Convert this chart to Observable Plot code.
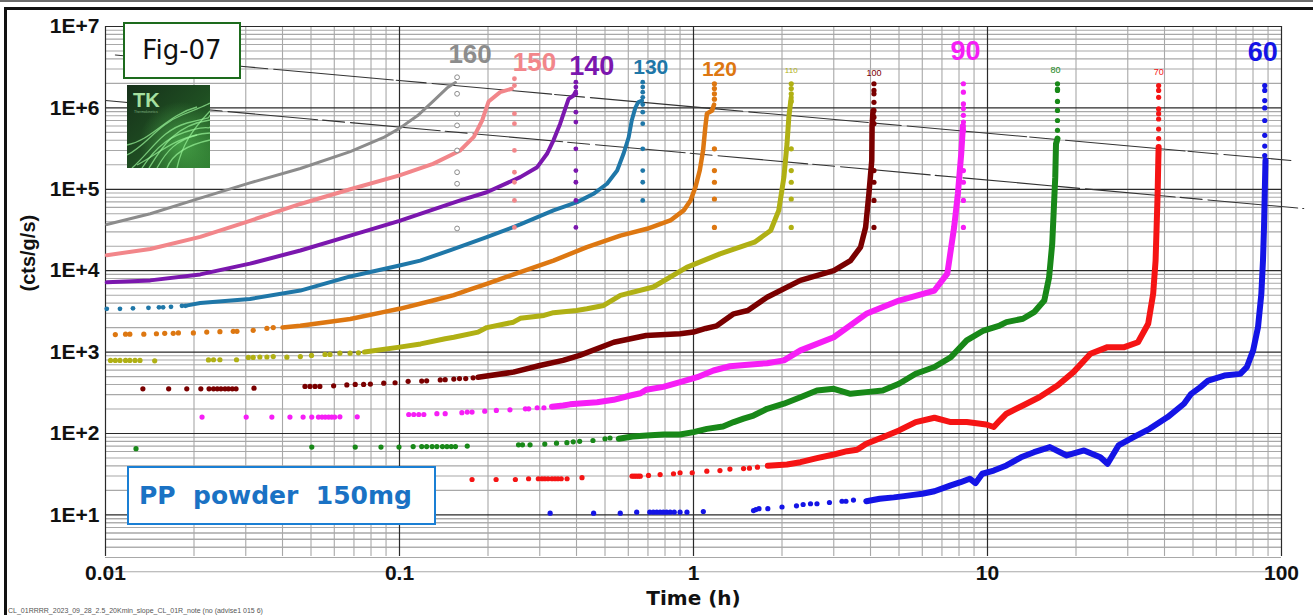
<!DOCTYPE html>
<html><head><meta charset="utf-8">
<script src="https://cdn.jsdelivr.net/npm/d3@7"></script>
<script src="https://cdn.jsdelivr.net/npm/@observablehq/plot@0.6"></script>
<style>
html,body{margin:0;padding:0;background:#fff;}
#wrap{position:relative;width:1313px;height:615px;overflow:hidden;font-family:"Liberation Sans",Arial,sans-serif;}
#chart{position:absolute;left:0;top:0;}
#chart svg{overflow:visible;}
.topline{position:absolute;left:0;top:0;width:1313px;height:2px;background:#6a6a6a;}
.frame{position:absolute;left:4px;top:7px;width:1320px;height:620px;border-left:3px solid #111;border-top:3px solid #111;pointer-events:none;}
.fig{position:absolute;left:123px;top:22px;width:114px;height:53px;border:2px solid #1d6b1d;background:#fff;font-family:"DejaVu Sans",sans-serif;font-size:26px;color:#111;text-align:center;line-height:53px;}
.logo{position:absolute;left:127px;top:85px;width:83px;height:83px;}
.pp{position:absolute;left:127px;top:466px;width:295px;height:55px;border:2.5px solid #1a7fd4;background:#fff;font-family:"DejaVu Sans",sans-serif;font-weight:bold;font-size:25px;color:#1a72c4;white-space:pre;line-height:55px;padding-left:10px;box-sizing:content-box;}
.cap{position:absolute;left:8px;top:607px;font-size:7px;color:#555;white-space:pre;font-family:"Liberation Sans",Arial,sans-serif;}
</style></head>
<body>
<div id="wrap">
  <div id="chart"></div>
  <div class="topline"></div>
  <div class="frame"></div>
  <div class="fig">Fig-07</div>
  <svg class="logo" viewBox="0 0 83 83" width="83" height="83">
    <defs>
      <linearGradient id="lg" x1="0" y1="0" x2="1" y2="1">
        <stop offset="0" stop-color="#16301a"/><stop offset="0.55" stop-color="#1f4f22"/><stop offset="1" stop-color="#2f7d31"/>
      </linearGradient>
      <radialGradient id="glow" cx="0.65" cy="0.7" r="0.5">
        <stop offset="0" stop-color="#5fd35f" stop-opacity="0.55"/><stop offset="1" stop-color="#5fd35f" stop-opacity="0"/>
      </radialGradient>
    </defs>
    <rect width="83" height="83" fill="url(#lg)"/>
    <rect width="83" height="83" fill="url(#glow)"/>
    <g fill="none" stroke="#9af59a" stroke-opacity="0.7" stroke-width="1.3">
      <path d="M0 70 C20 60 30 40 55 30 S80 20 83 18"/>
      <path d="M5 83 C25 65 35 45 60 38 S80 35 83 30"/>
      <path d="M15 83 C30 60 45 50 65 45 S80 45 83 42"/>
      <path d="M30 83 C40 65 50 55 70 50"/>
      <path d="M0 60 C25 55 40 30 70 22"/>
      <path d="M40 83 C45 70 60 60 83 55"/>
      <path d="M22 83 C35 62 48 40 83 35"/>
      <path d="M10 80 C30 70 50 50 83 48"/>
      <path d="M50 83 C55 60 65 45 83 26"/>
    </g>
    <text x="6" y="22" font-family="Liberation Sans, Arial" font-weight="bold" font-size="20" fill="#a6e0a0">TK</text>
    <text x="7" y="28" font-family="Liberation Sans, Arial" font-size="3.5" fill="#7fb07f">Thermokinetics</text>
  </svg>
  <div class="pp">PP  powder  150mg</div>
  <div class="cap">CL_01RRRR_2023_09_28_2.5_20Kmin_slope_CL_01R_note (no (advise1 015 6)</div>
</div>
<script>
// ---------- data (time in h, intensity in cts/g/s) ----------
const temps = ["160","150","140","130","120","110","100","90","80","70","60"];

const curve160 = [[0.0101,3.7e4],[0.0142,5.0e4],[0.021,7.8e4],[0.031,1.2e5],[0.046,1.8e5],[0.068,2.9e5],[0.088,4.3e5],[0.1,5.6e5],[0.115,8.0e5],[0.13,1.2e6],[0.145,1.75e6],[0.155,2.05e6]];
const sparse160 = [];
const spikeT160 = 0.157;
const spike160 = [2.38e6,1.49e6,8.5e5,6.1e5,3.0e5,1.62e5,1.17e5,3.3e4];

const curve150 = [[0.0101,1.55e4],[0.0142,1.85e4],[0.021,2.6e4],[0.031,4.1e4],[0.046,6.6e4],[0.068,1.0e5],[0.1,1.48e5],[0.13,2.05e5],[0.161,3.0e5],[0.179,4.4e5],[0.191,7.0e5],[0.201,1.2e6],[0.22,1.56e6],[0.241,1.72e6]];
const sparse150 = [];
const spikeT150 = 0.246;
const spike150 = [2.28e6,1.88e6,8.5e5,6.4e5,3.0e5,1.62e5,1.22e5,7.3e4,3.4e4];

const curve140 = [[0.0101,7.2e3],[0.0142,7.6e3],[0.021,9.0e3],[0.031,1.22e4],[0.046,1.77e4],[0.068,2.7e4],[0.1,4.1e4],[0.161,7.3e4],[0.198,9.2e4],[0.2575,1.41e5],[0.294,1.87e5],[0.3175,2.73e5],[0.334,4.0e5],[0.352,6.4e5],[0.367,1.0e6],[0.376,1.29e6],[0.391,1.42e6],[0.398,1.6e6]];
const sparse140 = [];
const spikeT140 = 0.398;
const spike140 = [2.07e6,1.8e6,1.49e6,8.85e5,6.7e5,3.14e5,1.7e5,1.22e5,7.3e4,3.4e4];

const curve130 = [[0.019,3.75e3],[0.021,4.0e3],[0.031,4.5e3],[0.046,5.7e3],[0.068,8.5e3],[0.1,1.16e4],[0.1176,1.33e4],[0.15,1.8e4],[0.198,2.58e4],[0.2575,3.7e4],[0.334,5.5e4],[0.402,6.95e4],[0.457,8.8e4],[0.508,1.17e5],[0.55,1.7e5],[0.578,2.73e5],[0.602,4.36e5],[0.6165,7.0e5],[0.634,1.0e6],[0.648,1.17e6],[0.668,1.23e6]];
const sparse130 = [[0.0101,3.4e3],[0.0112,3.4e3],[0.0124,3.45e3],[0.014,3.5e3],[0.0152,3.55e3],[0.0157,3.55e3],[0.0167,3.6e3],[0.0182,3.7e3],[0.0187,3.7e3]];
const spikeT130 = 0.672;
const spike130 = [2.07e6,1.8e6,1.56e6,1.35e6,1.1e6,8.85e5,6.4e5,3.14e5,1.7e5,1.22e5,7.3e4];

const curve120 = [[0.04,2.0e3],[0.046,2.1e3],[0.068,2.55e3],[0.088,3.1e3],[0.1,3.4e3],[0.13,4.3e3],[0.153,5.0e3],[0.169,5.7e3],[0.198,6.9e3],[0.2575,9.6e3],[0.334,1.33e4],[0.434,1.95e4],[0.564,2.7e4],[0.695,3.27e4],[0.834,4.14e4],[0.926,5.5e4],[0.977,7.3e4],[1.015,1.06e5],[1.05,1.7e5],[1.078,3.0e5],[1.098,6.0e5],[1.111,8.5e5],[1.157,9.3e5],[1.175,1.1e6]];
const sparse120 = [[0.0108,1.64e3],[0.0117,1.66e3],[0.0121,1.66e3],[0.0135,1.66e3],[0.0149,1.68e3],[0.0159,1.7e3],[0.017,1.7e3],[0.0177,1.72e3],[0.0199,1.72e3],[0.0221,1.76e3],[0.0245,1.78e3],[0.0272,1.8e3],[0.028,1.8e3],[0.0318,1.85e3],[0.0354,1.96e3],[0.0372,2.0e3]];
const spikeT120 = 1.178;
const spike120 = [1.98e6,1.73e6,1.49e6,1.28e6,3.14e5,1.7e5,1.22e5,7.6e4,3.4e4];

const curve110 = [[0.076,1.0e3],[0.1,1.15e3],[0.118,1.26e3],[0.143,1.46e3],[0.153,1.52e3],[0.185,1.76e3],[0.198,2.0e3],[0.244,2.33e3],[0.2575,2.6e3],[0.31,2.82e3],[0.334,3.05e3],[0.4,3.25e3],[0.434,3.4e3],[0.495,3.74e3],[0.564,4.97e3],[0.73,6.3e3],[0.948,1.1e4],[1.23,1.61e4],[1.613,2.24e4],[1.83,3.12e4],[1.95,5.5e4],[2.03,1.41e5],[2.08,3.62e5],[2.11,7.7e5],[2.15,1.35e6]];
const sparse110 = [[0.0104,790],[0.0108,790],[0.0112,790],[0.0117,790],[0.0121,790],[0.0126,790],[0.0131,790],[0.0147,780],[0.0224,800],[0.0233,805],[0.0245,805],[0.0279,805],[0.0306,860],[0.0318,860],[0.0335,870],[0.0354,870],[0.0372,880],[0.0414,865],[0.046,880],[0.0502,910],[0.0558,935],[0.058,935],[0.0627,970],[0.0679,970],[0.0725,980]];
const spikeT110 = 2.15;
const spike110 = [1.98e6,1.73e6,1.49e6,1.2e6,3.14e5,1.7e5,1.22e5,7.6e4,3.4e4];

const curve100 = [[0.185,490],[0.244,567],[0.3,684],[0.36,790],[0.41,910],[0.536,1320],[0.69,1600],[0.9,1680],[1.0,1760],[1.1,1950],[1.2,2100],[1.37,2950],[1.53,3240],[1.78,4720],[2.31,7600],[3.0,1.0e4],[3.42,1.33e4],[3.7,1.95e4],[3.85,3.42e4],[3.95,8.8e4],[4.04,2.26e5],[4.05,6.0e5],[4.08,9.3e5]];
const sparse100 = [[0.0134,354],[0.0164,354],[0.0189,354],[0.0211,354],[0.0225,354],[0.0233,354],[0.024,354],[0.0247,354],[0.0255,354],[0.0262,354],[0.027,354],[0.0278,354],[0.032,360],[0.0477,378],[0.0496,378],[0.0516,378],[0.0536,378],[0.0597,385],[0.0662,395],[0.0707,400],[0.0755,400],[0.0796,405],[0.0884,415],[0.0966,420],[0.107,437],[0.119,440],[0.1237,444],[0.1376,455],[0.143,458],[0.153,466],[0.16,472],[0.168,472],[0.178,483]];
const spikeT100 = 4.11;
const spike100 = [1.98e6,1.64e6,1.49e6,1.17e6,9.3e5,7.7e5,6.4e5,1.7e5,1.22e5,7.3e4,3.4e4];

const curve90 = [[0.33,213],[0.36,221],[0.38,228],[0.41,233],[0.47,242],[0.535,259],[0.61,293],[0.66,312],[0.69,344],[0.79,374],[0.9,427],[1.03,492],[1.17,594],[1.33,670],[1.53,700],[1.78,730],[2.03,790],[2.31,1050],[3.0,1520],[3.87,2950],[5.0,4300],[6.6,5700],[7.3,9200],[7.7,3.42e4],[7.93,8.8e4],[8.14,2.73e5],[8.25,6.0e5]];
const sparse90 = [[0.0213,159],[0.0301,159],[0.0368,159],[0.0424,159],[0.047,159],[0.0503,159],[0.053,159],[0.0545,159],[0.0559,159],[0.0574,159],[0.0588,159],[0.0602,159],[0.0627,160],[0.0718,160],[0.1075,171],[0.1118,171],[0.1163,171],[0.121,171],[0.134,175],[0.143,175],[0.163,180],[0.17,183],[0.1765,183],[0.195,188],[0.2135,192],[0.2375,195],[0.268,201],[0.275,201],[0.294,207],[0.31,207]];
const spikeT90 = 8.28;
const spike90 = [1.98e6,1.56e6,1.12e6,9.8e5,8.1e5,6.7e5,5.3e5,1.7e5,1.22e5,7.3e4,3.4e4];

const curve80 = [[0.557,86],[0.62,92],[0.693,94.5],[0.79,97],[0.9,97],[1.0,104],[1.11,114],[1.26,122],[1.37,138],[1.48,152],[1.6,166],[1.78,201],[2.03,232],[2.31,279],[2.63,337],[3.0,354],[3.42,307],[3.87,322],[4.4,337],[5.0,408],[5.7,542],[6.6,655],[7.5,865],[8.5,1390],[9.7,1840],[11.0,2120],[11.6,2330],[13.2,2570],[14.4,3090],[15.6,4300],[16.2,8300],[16.6,2.14e4],[16.8,5.5e4],[17.0,1.41e5],[17.1,3.62e5],[17.3,4.2e5]];
const sparse80 = [[0.0127,65],[0.0503,68],[0.0707,68],[0.0865,68],[0.0996,68],[0.1113,69],[0.119,69],[0.1237,69],[0.1291,69],[0.134,69],[0.14,69],[0.145,69],[0.15,69],[0.155,69],[0.17,70],[0.254,72.6],[0.262,72.6],[0.278,72.6],[0.312,74],[0.342,76],[0.371,77],[0.39,79],[0.41,80],[0.455,82],[0.5,86],[0.52,88]];
const spikeT80 = 17.3;
const spike80 = [1.98e6,1.7e6,1.64e6,1.2e6,9.3e5,7.0e5,5.3e5];

const curve70 = [[1.79,40],[2.08,41.6],[2.31,44.4],[2.63,49.7],[3.0,55.2],[3.33,60.6],[3.6,63.1],[3.87,74.7],[4.4,90.1],[5.0,109],[5.7,138],[6.6,156],[7.5,138],[8.5,138],[9.9,129],[10.5,120],[11.0,144],[11.6,175],[13.2,221],[15.0,279],[17.3,389],[19.6,567],[22.4,952],[25.6,1150],[29.2,1150],[32.5,1320],[35.2,2230],[36.6,5200],[37.3,1.33e4],[37.6,3.42e4],[37.9,8.8e4],[38.1,2.26e5],[38.2,3.3e5]];
const sparse70 = [[0.1765,27.2],[0.2131,27.2],[0.2478,27.2],[0.2748,27.8],[0.2966,27.8],[0.305,27.8],[0.312,27.8],[0.32,27.8],[0.33,27.8],[0.338,27.8],[0.346,27.8],[0.355,27.8],[0.3715,27.8],[0.4176,28.6],[0.618,29.9],[0.628,29.9],[0.638,29.9],[0.649,29.9],[0.659,29.9],[0.703,30.5],[0.77,31.3],[0.855,32],[0.9,32.9],[0.99,32.9],[1.11,34.4],[1.23,35],[1.33,36.5],[1.48,37],[1.55,37.5],[1.65,38.6]];
const spikeT70 = 38.2;
const spike70 = [1.88e6,1.64e6,1.35e6,9.7e5,8.5e5,7.3e5,5.5e5,4.2e5];

const curve60 = [[3.87,14.7],[4.3,15.8],[4.8,16.4],[5.2,17],[5.6,17.6],[6.0,18.2],[6.6,19.5],[7.5,23],[8.1,25.2],[8.7,27.8],[9.1,24.5],[9.6,32],[10.5,35],[11.6,40.5],[13.0,51],[14.4,58.9],[16.3,68],[18.6,53.7],[21.3,61.8],[24.2,51],[25.6,42.5],[27.9,71.3],[31.4,90],[35.6,114],[41.0,159],[46.6,232],[49.3,307],[53,371],[56.3,447],[63.9,515],[72.4,540],[76.2,652],[80.1,1050],[83.2,2020],[85.4,5200],[86.5,1.33e4],[87.2,3.42e4],[87.7,8.8e4],[88.2,2.26e5]];
const sparse60 = [[0.3254,10.5],[0.4573,10.5],[0.5634,10.5],[0.641,10.8],[0.71,10.8],[0.73,10.8],[0.75,10.8],[0.77,10.8],[0.79,10.8],[0.81,10.8],[0.833,10.8],[0.86,10.8],[0.9,10.8],[0.95,10.8],[1.08,11.0],[1.6,11.3],[1.63,11.6],[1.67,11.9],[1.79,11.9],[2.0,12.5],[2.24,12.9],[2.36,13.4],[2.5,13.7],[2.63,13.7],[2.9,14.2],[3.2,14.7],[3.3,14.7],[3.5,15.2]];
const spikeT60 = 87.7;
const spike60 = [1.88e6,1.64e6,1.23e6,1.0e6,7.0e5,4.6e5,3.4e5,2.6e5];

// reference (limit) lines
const refUpper = [[0.0108,4.46e6],[107.6,2.26e5]];
const refLower = [[0.01,1.23e6],[119,5.8e4]];

const xTickValues = [0.01,0.1,1,10,100];
const yTickValues = [1e1,1e2,1e3,1e4,1e5,1e6,1e7];

// ---------- styles ----------
const style = {
  "160":{color:"#8c8c8c", w:3,   r:2.4, hollow:true, size:26, dx:13, dy:28, bold:true},
  "150":{color:"#f2868a", w:4,   r:2.4, size:26, dx:20, dy:36, bold:true},
  "140":{color:"#7b17ae", w:4,   r:2.4, size:27, dx:16, dy:40, bold:true},
  "130":{color:"#1f77a8", w:4,   r:2.4, size:21, dx:8,  dy:41, bold:true},
  "120":{color:"#dd7711", w:4.5, r:2.6, size:21, dx:5,  dy:43, bold:true},
  "110":{color:"#b0b014", w:5,   r:2.6, size:8,  dx:0,  dy:44, bold:false},
  "100":{color:"#7a0000", w:5.5, r:2.6, size:9,  dx:0,  dy:47, bold:false},
  "90": {color:"#f61ef6", w:6,   r:2.6, size:27, dx:2,  dy:25, bold:true},
  "80": {color:"#188818", w:6,   r:2.6, size:9,  dx:-2, dy:44, bold:false},
  "70": {color:"#f51414", w:6,   r:2.6, size:9,  dx:0,  dy:46, bold:false},
  "60": {color:"#1414e6", w:6,   r:2.6, size:27, dx:-2, dy:26, bold:true}
};

const seriesData = {
  "160":[curve160,sparse160,spikeT160,spike160],
  "150":[curve150,sparse150,spikeT150,spike150],
  "140":[curve140,sparse140,spikeT140,spike140],
  "130":[curve130,sparse130,spikeT130,spike130],
  "120":[curve120,sparse120,spikeT120,spike120],
  "110":[curve110,sparse110,spikeT110,spike110],
  "100":[curve100,sparse100,spikeT100,spike100],
  "90":[curve90,sparse90,spikeT90,spike90],
  "80":[curve80,sparse80,spikeT80,spike80],
  "70":[curve70,sparse70,spikeT70,spike70],
  "60":[curve60,sparse60,spikeT60,spike60]
};

// grid values (log decades and minor multiples)
const majorX = xTickValues;
const minorX = d3.range(-2, 2).flatMap(e => d3.range(2, 10).map(m => m * Math.pow(10, e)));
const majorY = yTickValues;
const minorY = d3.range(0, 7).flatMap(e => d3.range(2, 10).map(m => m * Math.pow(10, e))).concat([4,5,6,7,8,9]);

const marks = [
  Plot.ruleX(minorX, {stroke:"#a8a8a8", strokeWidth:1.1}),
  Plot.ruleY(minorY, {stroke:"#a8a8a8", strokeWidth:1.1}),
  Plot.ruleX(majorX, {stroke:"#2a2a2a", strokeWidth:1.2}),
  Plot.ruleY(majorY, {stroke:"#2a2a2a", strokeWidth:1.2}),
  Plot.line(refUpper, {x:d=>d[0], y:d=>d[1], stroke:"#333", strokeWidth:1.1, strokeDasharray:"120,3,30,6"}),
  Plot.line(refLower, {x:d=>d[0], y:d=>d[1], stroke:"#333", strokeWidth:1.1, strokeDasharray:"90,5,22,6"})
];

for (const k of temps.slice().reverse()) {
  const [curve, sparse, tEnd, spike] = seriesData[k];
  const s = style[k];
  marks.push(Plot.line(curve, {x:d=>d[0], y:d=>d[1], stroke:s.color, strokeWidth:s.w, strokeLinecap:"round", strokeLinejoin:"round"}));
  if (sparse.length) marks.push(Plot.dot(sparse, {x:d=>d[0], y:d=>d[1], r:s.r, fill:s.color}));
  const spikePts = spike.map(v => [tEnd, v]);
  if (s.hollow) {
    marks.push(Plot.dot(spikePts, {x:d=>d[0], y:d=>d[1], r:2.4, fill:"white", stroke:s.color, strokeWidth:1}));
  } else {
    marks.push(Plot.dot(spikePts, {x:d=>d[0], y:d=>d[1], r:s.r, fill:s.color}));
  }
  marks.push(Plot.text([k], {x:[tEnd], frameAnchor:"top", lineAnchor:"middle", text:d=>d, dx:s.dx, dy:s.dy, fill:s.color,
    fontSize:s.size, fontWeight:s.bold ? "bold" : "normal", fontFamily:"Liberation Sans, Arial, sans-serif"}));
}

marks.push(
  Plot.axisX(xTickValues, {tickSize:0, tickPadding:9, fontSize:21, fontWeight:"bold", fill:"#111", label:null,
    tickFormat:d=>String(d)}),
  Plot.axisY(yTickValues, {tickSize:0, tickPadding:6, fontSize:21, fontWeight:"bold", fill:"#111", label:null,
    tickFormat:d=>"1E+" + Math.round(Math.log10(d))}),
  Plot.text(["Time (h)"], {frameAnchor:"bottom", lineAnchor:"middle", text:d=>d, dy:42, fontSize:20, fontWeight:"bold",
    fontFamily:"DejaVu Sans, Verdana, sans-serif", fill:"#111"}),
  Plot.text(["(cts/g/s)"], {frameAnchor:"left", lineAnchor:"middle", text:d=>d, rotate:-90, dx:-77, fontSize:20, fontWeight:"bold", fill:"#111"})
);

const chart = Plot.plot({
  width:1313, height:615,
  marginLeft:105, marginRight:32, marginTop:26, marginBottom:59,
  x:{type:"log", domain:[0.01,100]},
  y:{type:"log", domain:[3.08,1e7]},
  style:{background:"transparent", color:"#111", fontFamily:"Liberation Sans, Arial, sans-serif", overflow:"visible"},
  marks
});
document.getElementById("chart").appendChild(chart);
</script>
</body></html>
